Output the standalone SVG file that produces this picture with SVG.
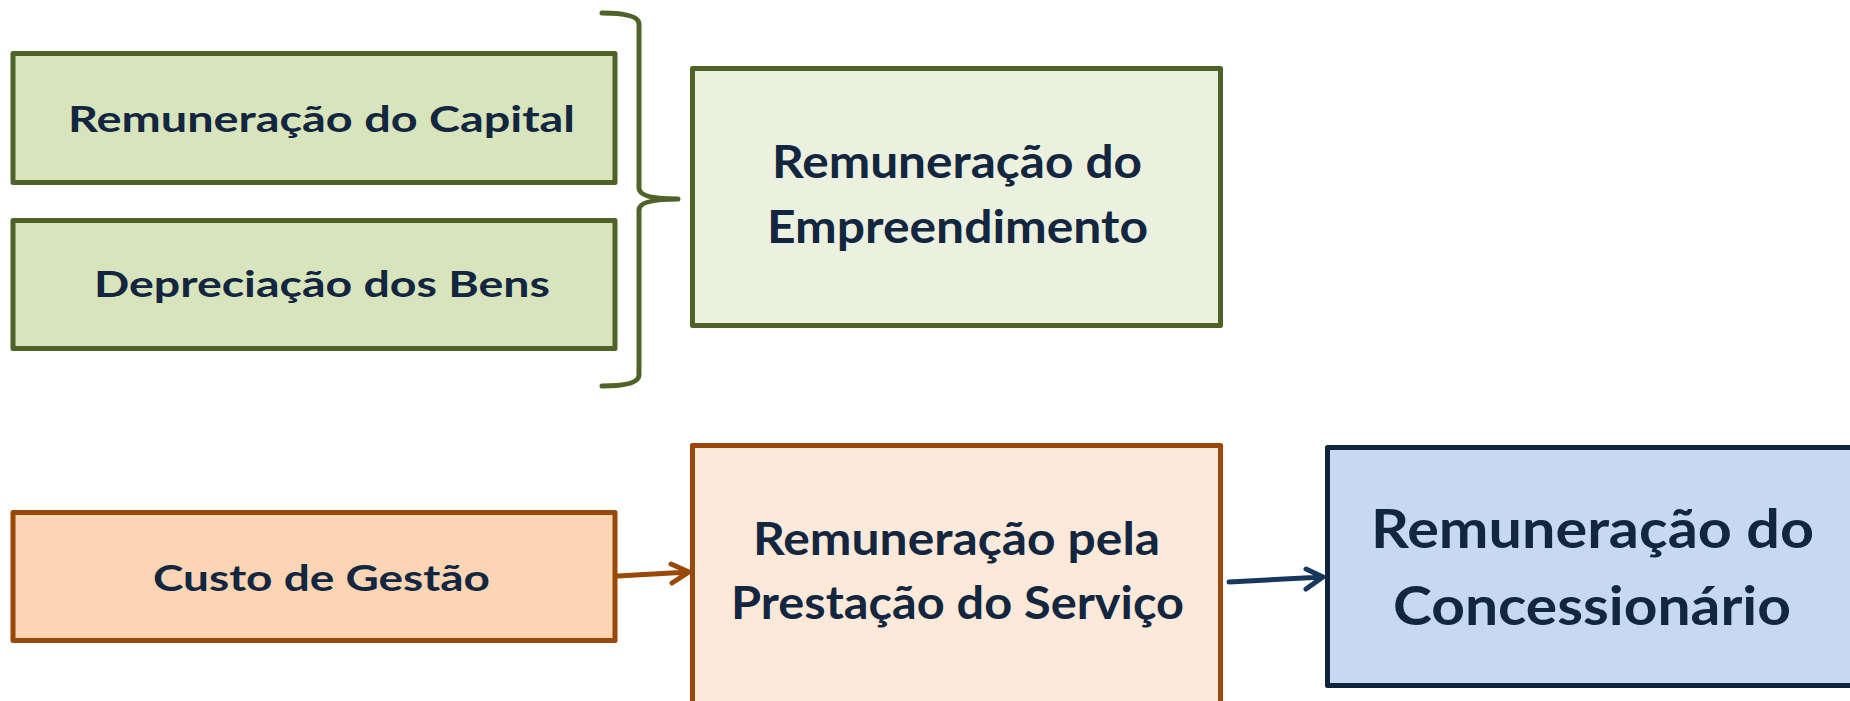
<svg xmlns="http://www.w3.org/2000/svg" width="1850" height="701" viewBox="0 0 1850 701">
<style>
  .box { stroke-width: 5; stroke-linejoin: round; }
  .green { fill: #D8E4BC; stroke: #4F6228; }
  .pale { fill: #EBF1DE; stroke: #4F6228; }
  .orange { fill: #FCD5B5; stroke: #984807; }
  .peach { fill: #FDE9D9; stroke: #984807; }
  .blue { fill: #C6D9F1; stroke: #10243E; }
  text { font-family: Lato, "Liberation Sans", sans-serif; font-weight: bold; fill: #12263F; text-anchor: middle; }
  .s { font-size: 36px; }
  .m { font-size: 45px; }
  .l { font-size: 54px; }
  .conn { fill: none; stroke-width: 5; stroke-linecap: round; stroke-linejoin: round; }
</style>
<rect width="1850" height="701" fill="#FFFFFF"/>
<g id="node-capital">
  <rect class="box green" x="13" y="53.5" width="602" height="129"/>
  <text class="s" x="321.5" y="132" textLength="507" lengthAdjust="spacingAndGlyphs">Remuneração do Capital</text>
</g>
<g id="node-depreciacao">
  <rect class="box green" x="13" y="220.5" width="602" height="128"/>
  <text class="s" x="322" y="297" textLength="456" lengthAdjust="spacingAndGlyphs">Depreciação dos Bens</text>
</g>
<g id="node-empreendimento">
  <rect class="box pale" x="692.5" y="68.5" width="528" height="257"/>
  <text class="m" x="957" y="178" textLength="370" lengthAdjust="spacingAndGlyphs">Remuneração do</text>
  <text class="m" x="957.5" y="243" textLength="381" lengthAdjust="spacingAndGlyphs">Empreendimento</text>
</g>
<g id="node-custo">
  <rect class="box orange" x="13" y="512.5" width="602" height="128"/>
  <text class="s" x="321.5" y="591" textLength="337" lengthAdjust="spacingAndGlyphs">Custo de Gestão</text>
</g>
<g id="node-prestacao">
  <rect class="box peach" x="692.5" y="445.5" width="528" height="280"/>
  <text class="m" x="956.5" y="555" textLength="407" lengthAdjust="spacingAndGlyphs">Remuneração pela</text>
  <text class="m" x="957.5" y="619" textLength="453" lengthAdjust="spacingAndGlyphs">Prestação do Serviço</text>
</g>
<g id="node-concessionario">
  <rect class="box blue" x="1327.5" y="447.5" width="600" height="238"/>
  <text class="l" x="1592.5" y="548" textLength="443" lengthAdjust="spacingAndGlyphs">Remuneração do</text>
  <text class="l" x="1592" y="625" textLength="398" lengthAdjust="spacingAndGlyphs">Concessionário</text>
</g>
<g id="connectors">
  <path class="conn" stroke="#4F6228" d="M602,13 Q639,13 639,24 L639,188 Q639,199 678,199 Q639,199 639,210 L639,375 Q639,386 602,386"/>
  <path class="conn" stroke="#984807" d="M618,576 L689,572 M671,564 L689,572 L672,583"/>
  <path class="conn" stroke="#17375E" d="M1229,582 L1323,577 M1306,569 L1323,577 L1306,589"/>
</g>
</svg>
